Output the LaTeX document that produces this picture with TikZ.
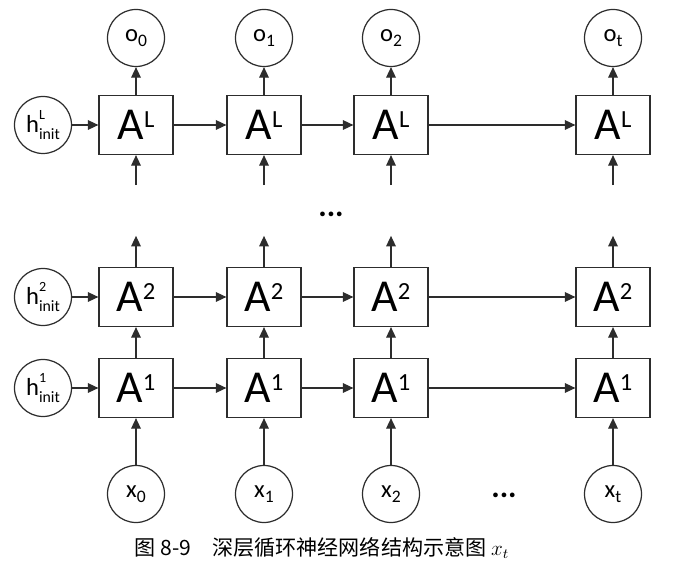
\documentclass[tikz,border=0pt]{standalone}
\usepackage{fontspec}
\setmainfont{Carlito}
\newfontfamily\cjk{Noto Sans CJK SC}
\usetikzlibrary{positioning,arrows.meta}
\definecolor{linegrey}{RGB}{45,45,45}
\newcommand{\layer}[1]{A\raisebox{7pt}{\fontsize{14}{14}\selectfont #1}}
\newcommand{\hinit}[1]{h\rlap{\raisebox{7pt}{\fontsize{8}{8}\selectfont #1}}\raisebox{-4pt}{\fontsize{9}{9}\selectfont init}}
\newcommand{\lowsub}[2]{#1\raisebox{-3pt}{\fontsize{10}{10}\selectfont #2}}
\begin{document}
\begin{tikzpicture}[
    cellbox/.style={
        draw=linegrey,
        line width=0.7pt,
        inner sep=0pt,
        minimum width=1.48cm,
        minimum height=1.18cm,
        font=\fontsize{26}{26}\selectfont
    },
    statecirc/.style={
        circle,
        draw=linegrey,
        line width=0.7pt,
        inner sep=0pt,
        minimum size=1.14cm,
        font=\fontsize{14}{14}\selectfont
    },
    dots/.style={font=\fontsize{18}{18}\selectfont\bfseries},
    arrow/.style={-{Triangle[length=6pt,width=5.5pt]}, line width=0.7pt, draw=linegrey}
]
\useasboundingbox (0,0) rectangle (14,-11.64);

% TOP LAYER
\node[statecirc] (hL) at (0.86,-2.50) {\hinit{L}};
\node[cellbox] (aL0) at (2.72,-2.50) {\layer{L}};
\node[cellbox] (aL1) at (5.28,-2.50) {\layer{L}};
\node[cellbox] (aL2) at (7.82,-2.50) {\layer{L}};
\node[cellbox] (aL3) at (12.26,-2.50) {\layer{L}};

\node[statecirc] (o0) at (2.72,-0.76) {\lowsub{o}{0}};
\node[statecirc] (o1) at (5.28,-0.76) {\lowsub{o}{1}};
\node[statecirc] (o2) at (7.82,-0.76) {\lowsub{o}{2}};
\node[statecirc] (o3) at (12.26,-0.76) {\lowsub{o}{t}};

\coordinate[below=0.6cm of aL0] (inL0);
\coordinate[below=0.6cm of aL1] (inL1);
\coordinate[below=0.6cm of aL2] (inL2);
\coordinate[below=0.6cm of aL3] (inL3);

\draw[arrow] (hL) -- (aL0);
\draw[arrow] (aL0) -- (aL1);
\draw[arrow] (aL1) -- (aL2);
\draw[arrow] (aL2) -- (aL3);
\draw[arrow] (aL0) -- (o0);
\draw[arrow] (aL1) -- (o1);
\draw[arrow] (aL2) -- (o2);
\draw[arrow] (aL3) -- (o3);
\draw[arrow] (inL0) -- (aL0);
\draw[arrow] (inL1) -- (aL1);
\draw[arrow] (inL2) -- (aL2);
\draw[arrow] (inL3) -- (aL3);

\node[dots] (vdots) at (6.62,-4.28) {...};

% SECOND LAYER
\node[statecirc] (h2) at (0.86,-5.94) {\hinit{2}};
\node[cellbox] (a20) at (2.72,-5.94) {\layer{2}};
\node[cellbox] (a21) at (5.28,-5.94) {\layer{2}};
\node[cellbox] (a22) at (7.82,-5.94) {\layer{2}};
\node[cellbox] (a23) at (12.26,-5.94) {\layer{2}};

\coordinate[above=0.62cm of a20] (out20);
\coordinate[above=0.62cm of a21] (out21);
\coordinate[above=0.62cm of a22] (out22);
\coordinate[above=0.62cm of a23] (out23);

\draw[arrow] (h2) -- (a20);
\draw[arrow] (a20) -- (a21);
\draw[arrow] (a21) -- (a22);
\draw[arrow] (a22) -- (a23);
\draw[arrow] (a20) -- (out20);
\draw[arrow] (a21) -- (out21);
\draw[arrow] (a22) -- (out22);
\draw[arrow] (a23) -- (out23);

% FIRST LAYER
\node[statecirc] (h1) at (0.86,-7.76) {\hinit{1}};
\node[cellbox] (a10) at (2.72,-7.76) {\layer{1}};
\node[cellbox] (a11) at (5.28,-7.76) {\layer{1}};
\node[cellbox] (a12) at (7.82,-7.76) {\layer{1}};
\node[cellbox] (a13) at (12.26,-7.76) {\layer{1}};

\draw[arrow] (h1) -- (a10);
\draw[arrow] (a10) -- (a11);
\draw[arrow] (a11) -- (a12);
\draw[arrow] (a12) -- (a13);
\draw[arrow] (a10) -- (a20);
\draw[arrow] (a11) -- (a21);
\draw[arrow] (a12) -- (a22);
\draw[arrow] (a13) -- (a23);

% INPUTS
\node[statecirc] (x0) at (2.72,-9.88) {\lowsub{x}{0}};
\node[statecirc] (x1) at (5.28,-9.88) {\lowsub{x}{1}};
\node[statecirc] (x2) at (7.82,-9.88) {\lowsub{x}{2}};
\node[statecirc] (x3) at (12.26,-9.88) {\lowsub{x}{t}};
\node[dots] (hdots) at (10.08,-9.90) {...};

\draw[arrow] (x0) -- (a10);
\draw[arrow] (x1) -- (a11);
\draw[arrow] (x2) -- (a12);
\draw[arrow] (x3) -- (a13);

% CAPTION
\node[font=\fontsize{12}{12}\selectfont] (caption) at (6.44,-10.96)
{\cjk 图 8-9\quad 深层循环神经网络结构示意图 $x_t$};

\end{tikzpicture}
\end{document}
